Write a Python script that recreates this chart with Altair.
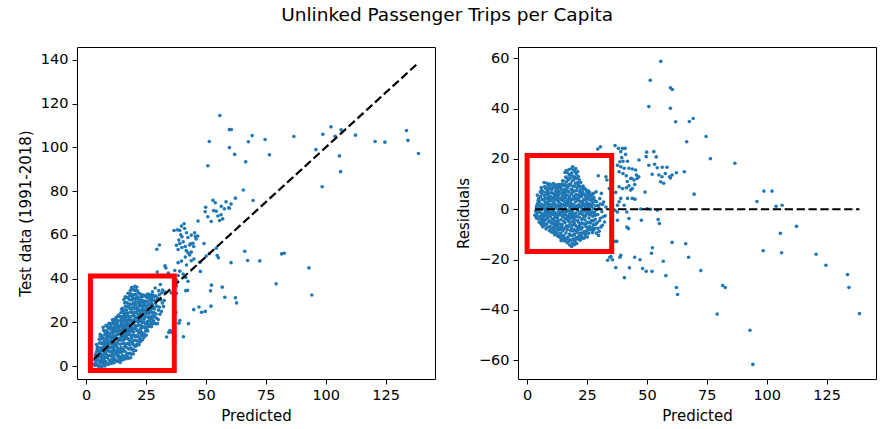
import altair as alt
import pandas as pd

# ---- data: (predicted, residual) pairs; test data = predicted + residual
core_points = [
    (3.2,-2.4),(3.6,-0.8),(3.9,0.9),(4.2,-1.6),(4.4,2.3),(3.8,-3.5),(4.6,-3.9),(4.5,0.2),(4.8,4.1),(4.3,5.6),
    (5.1,-5.2),(5.3,-2.9),(5.0,-1.0),(5.4,1.1),(5.2,3.0),(5.6,5.0),(5.5,6.8),(5.9,8.6),(5.8,-4.1),(6.0,-0.2),(6.2,2.0),(6.1,-6.3),
    (6.6,-7.0),(6.8,-5.3),(6.5,-3.4),(7.0,-1.8),(6.7,0.5),(7.1,1.6),(6.9,3.7),(7.2,5.4),(6.6,7.1),(7.3,9.0),(7.1,10.6),(7.4,-4.4),(7.5,-0.7),(7.5,3.0),
    (7.9,-7.8),(8.1,-6.0),(7.8,-4.0),(8.3,-2.6),(8.0,-0.9),(8.4,0.8),(8.2,2.5),(8.6,4.2),(8.1,6.0),(8.5,7.6),(8.8,9.4),(8.3,10.3),(8.9,-5.1),(8.7,-1.5),(9.0,1.8),(8.9,5.3),
    (9.3,-8.6),(9.6,-6.8),(9.2,-4.6),(9.8,-3.1),(9.4,-1.0),(10.0,0.4),(9.5,2.0),(10.1,3.4),(9.7,5.1),(10.2,6.6),(9.4,8.1),(10.0,9.6),(10.4,-9.2),(10.3,-5.6),(10.5,-2.0),(10.4,1.3),(10.3,7.9),
    (10.8,-7.6),(11.1,-4.3),(10.7,-0.7),(11.2,2.7),(10.9,4.6),(11.4,8.9),(11.0,10.2),(11.5,-10.1),(11.7,-8.0),(11.3,-6.1),(11.8,-2.8),(11.6,-1.2),(11.9,0.9),(11.5,3.9),(11.8,6.0),(11.9,7.4),(12.0,-4.9),
    (12.2,-9.3),(12.5,-7.0),(12.3,-5.5),(12.7,-3.6),(12.4,-1.9),(12.8,0.0),(12.2,1.6),(12.9,3.2),(12.6,4.9),(12.3,6.8),(12.8,8.3),(12.5,9.7),(13.1,-10.8),(13.3,-8.2),(13.0,-2.5),(13.4,1.1),(13.2,5.6),(13.4,7.2),(13.5,-5.8),
    (13.8,-11.3),(14.0,-9.6),(13.7,-7.3),(14.2,-4.2),(13.9,-1.4),(14.3,0.6),(13.8,2.4),(14.1,4.0),(14.4,6.4),(13.9,8.9),(14.5,9.9),(14.7,-12.0),(14.9,-8.6),(14.6,-6.1),(15.0,-3.1),(14.8,-0.4),(15.0,1.9),(14.7,3.6),(15.0,5.3),(14.8,7.6),(15.1,11.3),
    (15.3,-10.5),(15.6,-12.6),(15.4,-7.8),(15.8,-5.3),(15.5,-2.2),(15.9,0.4),(15.3,1.5),(15.7,3.0),(16.0,4.6),(15.5,6.3),(15.9,8.0),(15.6,9.8),(16.1,12.8),(15.8,14.6),(16.3,15.4),(16.2,-9.4),(16.4,-6.6),(16.3,-1.0),(16.5,2.4),(16.2,5.7),(16.4,10.8),
    (16.7,-13.3),(17.0,-11.1),(16.8,-8.2),(17.2,-4.5),(16.9,-2.9),(17.3,-0.3),(16.7,1.6),(17.1,3.8),(17.4,6.8),(16.9,8.7),(17.2,11.6),(17.6,13.5),(17.5,15.8),(17.8,-14.2),(17.7,-9.9),(17.9,-6.0),(17.6,-1.8),(18.0,0.9),(17.8,4.6),(17.9,9.6),(18.0,12.4),
    (18.3,-12.4),(18.6,-14.8),(18.2,-10.3),(18.5,-7.4),(18.8,-4.9),(18.3,-2.4),(18.7,0.1),(18.4,2.2),(18.9,3.9),(18.5,6.1),(18.8,7.7),(18.2,10.2),(18.6,14.4),(19.0,16.9),(19.1,13.1),(19.3,-11.9),(19.2,-8.7),(19.4,-3.7),(19.0,-1.1),(19.3,1.8),(19.4,5.2),(19.2,9.1),(19.5,11.8),
    (19.7,-14.1),(20.0,-12.8),(19.8,-10.0),(20.2,-6.5),(19.9,-4.3),(20.3,-1.6),(19.6,0.7),(20.1,2.9),(20.4,5.8),(19.8,7.2),(20.2,10.4),(20.0,14.8),(20.3,16.2),(20.6,12.2),(20.7,-13.6),(20.9,-9.2),(20.8,-7.0),(21.0,-2.8),(20.6,0.2),(21.0,3.5),(20.8,8.6),(21.1,15.0),
    (21.3,-11.2),(21.6,-8.1),(21.4,-5.2),(21.8,-3.2),(21.2,-0.6),(21.7,1.9),(21.5,4.3),(21.9,6.8),(21.4,9.5),(21.8,11.7),(22.1,-12.3),(22.3,-9.5),(22.0,-6.2),(22.4,-1.5),(22.2,0.9),(22.5,3.1),(22.1,7.7),(22.4,10.6),
    (22.7,-10.6),(23.0,-7.3),(22.8,-4.1),(23.2,-2.2),(22.9,0.3),(23.3,2.4),(22.7,5.0),(23.1,7.0),(23.4,9.2),(23.6,-11.6),(23.8,-8.9),(23.5,-5.8),(23.9,-0.8),(23.7,1.5),(24.0,4.0),(23.8,6.0),(24.0,8.2),
    (24.3,-9.8),(24.6,-7.0),(24.2,-4.3),(24.7,-2.0),(24.4,0.6),(24.8,2.7),(24.5,5.2),(24.9,7.0),(25.1,-11.0),(25.3,-8.3),(25.0,-5.4),(25.4,-1.1),(25.2,1.7),(25.5,3.9),(25.3,6.2),
    (25.7,-9.6),(26.0,-6.9),(25.8,-3.5),(26.2,-0.3),(25.9,2.2),(26.3,4.8),(26.1,6.7),(26.6,-8.2),(26.8,-4.6),(26.5,-1.9),(26.9,1.0),(26.7,3.4),(27.0,5.6),
    (27.3,-9.3),(27.6,-6.2),(27.4,-2.8),(27.8,0.2),(27.5,2.6),(27.9,4.6),(28.2,-7.6),(28.4,-4.0),(28.1,-1.2),(28.6,1.4),(28.3,3.3),(28.8,6.9),(28.9,-9.5),
    (29.2,-5.4),(29.5,-2.1),(29.8,-10.4),(29.7,13.3),(30.0,0.5),(30.3,4.2),(30.8,-7.1),(30.6,-3.6),(31.2,-1.0),(31.5,1.9),(31.9,2.9),(32.3,-5.1),(32.9,0.9),(33.3,11.6),(32.6,-2.6),(31.0,6.3),
]

core_points_dense = [
    (4.0,-2.6),(4.1,1.5),(4.7,-1.0),(4.9,1.9),(4.6,3.4),
    (5.7,-5.6),(5.6,-3.4),(5.9,-1.6),(5.7,0.4),(6.3,3.9),(6.2,6.1),(6.4,-4.6),(6.3,-2.3),(6.4,0.7),(6.0,7.6),
    (7.2,-6.4),(7.0,-3.9),(7.3,-2.6),(7.7,-1.4),(7.3,0.3),(7.7,1.9),(7.6,4.4),(7.8,6.6),(7.7,8.3),(7.8,-5.9),
    (8.5,-7.2),(8.6,-3.4),(8.5,-0.1),(8.8,3.1),(8.6,6.7),(9.1,8.5),(9.2,-2.2),(9.1,0.6),(9.3,3.9),(9.1,6.5),(9.5,10.0),
    (9.9,-7.9),(10.0,-5.1),(10.1,-1.8),(9.9,1.4),(10.6,4.5),(10.6,-4.0),(10.8,-9.0),(11.0,-2.0),(10.7,2.0),(10.9,6.3),(10.7,8.6),(10.9,-5.6),
    (11.3,-8.9),(11.2,-6.9),(11.4,-3.5),(11.2,0.3),(11.6,1.9),(11.4,5.2),(11.7,9.6),(12.1,-6.3),(12.0,-2.6),(12.2,3.9),(12.0,5.8),(12.1,8.8),
    (12.6,-10.5),(12.9,-8.2),(12.8,-6.2),(13.0,-4.6),(13.2,-1.1),(12.9,1.5),(13.1,2.9),(13.6,4.1),(12.9,6.5),(13.2,9.5),(13.6,-9.7),(13.6,-1.9),(13.5,9.8),
    (14.2,-12.5),(14.4,-10.6),(14.3,-8.1),(14.5,-6.9),(14.4,-2.5),(14.6,-1.2),(14.4,1.7),(14.6,4.9),(14.3,8.1),(15.2,-11.7),(15.3,-4.9),(15.2,-0.9),(15.3,4.0),(15.3,7.3),(14.8,11.2),(15.2,9.4),
    (15.9,-11.6),(16.1,-7.3),(15.9,-3.7),(16.1,-2.2),(16.0,1.7),(16.2,7.1),(16.1,9.5),(16.6,-11.9),(16.7,-4.0),(16.6,-0.8),(16.8,3.1),(16.6,5.5),(16.8,7.3),(16.7,12.3),(16.9,14.5),
    (17.2,-13.0),(17.3,-7.0),(17.5,-4.9),(17.4,-2.9),(17.5,1.3),(17.3,2.5),(17.6,5.2),(17.4,9.7),(17.9,-12.2),(18.2,-8.5),(18.1,-3.6),(18.2,-1.0),(18.1,3.3),(18.3,7.9),(18.2,13.9),(18.5,16.1),
    (18.9,-13.5),(18.8,-10.5),(19.0,-6.3),(19.1,-3.0),(18.9,-1.9),(19.0,1.4),(19.1,6.9),(18.9,11.3),(19.6,-12.0),(19.6,-8.1),(19.7,-5.5),(19.6,-2.6),(19.8,4.2),(19.7,9.2),(19.9,12.8),(19.5,15.5),
    (20.4,-11.3),(20.5,-8.6),(20.4,-3.1),(20.5,1.4),(20.3,4.3),(20.6,7.4),(20.7,10.3),(20.6,14.0),(21.1,-11.8),(21.2,-7.5),(21.1,-4.5),(21.3,1.0),(21.2,5.6),(21.2,10.6),(21.4,13.0),
    (21.8,-10.3),(21.9,-6.8),(21.8,-1.8),(22.0,3.2),(22.1,5.3),(21.9,9.1),(22.6,-11.5),(22.6,-7.9),(22.7,-5.6),(22.6,-0.9),(22.8,1.5),(22.7,6.4),(22.9,8.9),
    (23.3,-9.5),(23.2,-5.6),(23.4,-3.5),(23.3,-0.7),(23.5,3.6),(23.4,5.9),(23.3,8.3),(24.2,-11.0),(24.1,-6.1),(24.3,-2.8),(24.2,1.7),(24.3,3.9),(24.4,7.9),
    (24.8,-8.7),(24.9,-5.6),(24.9,-0.6),(25.0,4.4),(25.6,-7.6),(25.6,-5.2),(25.7,-1.8),(25.6,0.9),(25.8,5.3),(25.5,7.3),
    (26.3,-8.0),(26.4,-5.5),(26.2,-2.3),(26.5,1.8),(26.4,6.0),(27.2,-7.3),(27.1,-4.6),(27.0,-1.0),(27.2,1.7),(27.3,4.0),(27.7,-8.4),(27.8,-4.7),(27.9,-1.6),(27.7,6.3),
    (28.6,-6.1),(28.5,-2.4),(29.0,-0.2),(29.0,3.0),(29.5,-7.6),(29.7,1.5),(30.2,-4.6),(30.1,-8.8),(30.5,2.1),(31.4,-6.4),(31.8,-3.0),
]

mid_points = [
    (29.5,23.9),(30.6,24.8),(36.7,25.3),(38.1,24.2),(39.8,24.2),(40.9,24.2),(39.1,22.9),(41.1,21.8),(39.5,20.5),(38.7,18.9),
    (40.0,19.1),(41.9,19.1),(37.7,17.5),(39.1,16.9),(40.5,16.3),(42.5,16.3),(43.9,16.0),(38.4,14.9),(40.0,14.2),(41.4,13.3),
    (43.2,12.2),(44.6,11.6),(45.9,12.2),(46.6,12.9),(32.9,12.9),(41.8,11.0),(42.5,9.3),(43.9,8.2),(41.4,8.5),(39.8,8.2),
    (38.4,8.9),(43.2,7.6),(44.9,9.8),(41.9,4.3),(43.9,4.3),(45.0,4.0),(39.1,4.3),(37.7,1.6),(38.4,3.0),(37.0,6.7),(34.3,8.2),
    (45.6,13.6),(43.6,12.3),(45.3,15.6),(46.7,19.6),
    (47.4,0.1),(50.1,0.2),(51.5,0.0),(54.3,-0.4),(54.7,-4.1),(55.2,-5.7),(47.7,-4.4),(42.5,-3.7),(41.6,-1.1),(40.5,1.6),
    (37.7,-4.4),(37.7,-1.1),(41.6,-7.1),(42.3,-7.7),(37.4,-12.8),(36.6,-12.8),(49.2,6.8),(36.7,-0.4),(35.5,-2.0),
    (35.0,-18.8),(35.6,-20.1),(37.0,-23.2),(33.6,-20.3),(34.5,-19.1),(38.7,-19.1),(39.1,-18.3),(44.9,-19.1),(47.1,-20.1),(48.2,-23.6),
    (49.7,-24.7),(52.1,-24.7),(42.7,-23.3),(40.6,-27.2),(51.9,-17.5),(52.3,-15.3),(56.8,-20.7),(57.9,-26.4),
    (49.9,22.7),(52.9,22.9),(53.9,20.8),(49.7,20.9),(53.2,17.9),(54.3,16.5),(56.4,16.7),(58.4,16.7),(52.2,13.9),(55.0,13.6),
    (56.3,12.9),(55.7,10.9),(57.0,10.3),(60.5,13.6),(59.5,12.9),(62.3,14.5),(65.6,14.9),(57.7,14.2),(59.8,12.4),(50.8,17.5),
]

outlier_points = [
    (55.8,58.8),(51.4,51.3),(50.8,40.8),(59.8,48.3),(60.6,47.6),(59.8,40.1),(62.0,34.8),(67.7,34.9),(69.3,36.1),(66.6,26.8),
    (74.7,28.9),(76.5,20.1),(86.7,18.3),(69.7,6.0),(95.9,3.1),(98.8,7.2),(102.2,7.2),(103.9,1.2),(106.4,1.6),(105.7,-9.6),
    (106.2,-17.3),(98.5,-16.5),(112.4,-6.8),(120.6,-17.9),(124.7,-22.3),(133.7,-26.0),(134.3,-31.1),(138.7,-41.5),(93.0,-48.1),(94.2,-61.7),
    (79.3,-41.7),(81.6,-30.3),(82.7,-31.1),(72.5,-24.4),(62.3,-31.1),(62.8,-33.9),(60.5,-13.2),(66.2,-13.7),(67.4,-19.1),
]

# highlight boxes (data coordinates) drawn in the reference
box_left = {"x": 1.8, "x2": 36.8, "y": -2.0, "y2": 41.2}
box_right = {"x": 0.0, "x2": 35.3, "y": -16.8, "y2": 21.4}

x_ticks = [0, 25, 50, 75, 100, 125]
y_ticks_left = [0, 20, 40, 60, 80, 100, 120, 140]
y_ticks_right = [-60, -40, -20, 0, 20, 40, 60]

# ---- build tables
pts = core_points + core_points_dense + mid_points + outlier_points
df = pd.DataFrame(pts, columns=["pred", "resid"])
df["actual"] = df["pred"] + df["resid"]

pmin, pmax = df["pred"].min(), df["pred"].max()
ident = pd.DataFrame({"x": [pmin, pmax], "y": [pmin, pmax]})
zero = pd.DataFrame({"x": [pmin, pmax], "y": [0.0, 0.0]})

FONT = "DejaVu Sans"
BLUE = "#1f77b4"
W, H = 358, 332

def axis(title, values):
    return alt.Axis(title=title, values=values, grid=False, domain=False,
                    tickSize=5, tickColor="black", tickWidth=1,
                    labelFont=FONT, labelFontSize=14.5, labelColor="black", labelPadding=4,
                    titleFont=FONT, titleFontSize=15, titleColor="black",
                    titleFontWeight="normal", titlePadding=7)

xs = alt.Scale(domain=[-3.8, 145.6], nice=False, zero=False)
ys_left = alt.Scale(domain=[-5.9, 145.9], nice=False, zero=False)
ys_right = alt.Scale(domain=[-67.5, 64.5], nice=False, zero=False)

def panel(ycol, ytitle, yticks, yscale, line_df, box):
    base_x = alt.X("pred:Q", scale=xs, axis=axis("Predicted", x_ticks))
    pts_layer = alt.Chart(df).mark_circle(size=13, color=BLUE, opacity=1).encode(
        x=base_x,
        y=alt.Y(f"{ycol}:Q", scale=yscale, axis=axis(ytitle, yticks)),
    )
    line_layer = alt.Chart(line_df).mark_line(color="black", strokeWidth=2.2,
                                              strokeDash=[8.3, 3.6]).encode(
        x=alt.X("x:Q", scale=xs), y=alt.Y("y:Q", scale=yscale))
    box_layer = alt.Chart(pd.DataFrame([box])).mark_rect(
        fillOpacity=0, stroke="#ff0000", strokeWidth=5).encode(
        x=alt.X("x:Q", scale=xs), x2="x2:Q",
        y=alt.Y("y:Q", scale=yscale), y2="y2:Q")
    return alt.layer(pts_layer, line_layer, box_layer).properties(width=W, height=H)

left = panel("actual", "Test data (1991-2018)", y_ticks_left, ys_left, ident, box_left)
right = panel("resid", "Residuals", y_ticks_right, ys_right, zero, box_right)

chart = alt.hconcat(left, right, spacing=19).properties(
    title=alt.TitleParams("Unlinked Passenger Trips per Capita", font=FONT, fontSize=18.5,
                          fontWeight="normal", color="black", anchor="middle", offset=22),
    padding={"left": 17, "top": 6, "right": 10, "bottom": 4},
    background="white",
).configure_view(stroke="black", strokeWidth=1)

chart.save("out.html", embed_options={"renderer": "svg", "actions": False})
